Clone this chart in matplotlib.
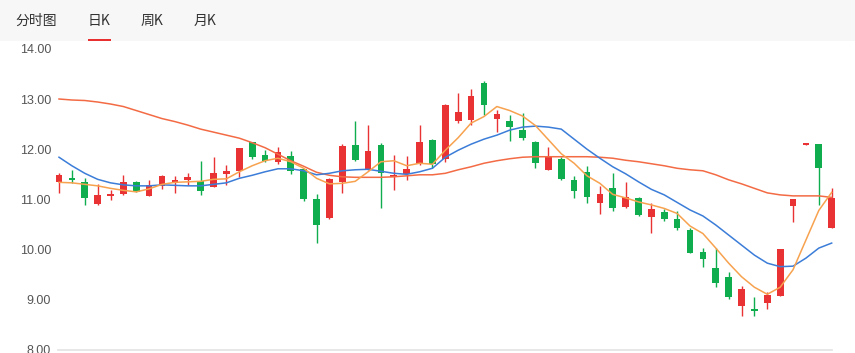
import matplotlib
matplotlib.use("Agg")
import matplotlib.pyplot as plt
from matplotlib.patches import Rectangle
import numpy as np

plt.rcParams['font.family'] = ['Noto Sans CJK SC', 'DejaVu Sans']

# ---------------- data ----------------
tabs = ["分时图", "日K", "周K", "月K"]
y_ticks = [8.0, 9.0, 10.0, 11.0, 12.0, 13.0, 14.0]
y_tick_labels = ["8.00", "9.00", "10.00", "11.00", "12.00", "13.00", "14.00"]

opens = [11.34, 11.43, 11.35, 10.91, 11.07, 11.11, 11.35, 11.07, 11.27, 11.33,
         11.39, 11.37, 11.25, 11.51, 11.57, 12.14, 11.88, 11.74, 11.86, 11.60,
         11.00, 10.62, 11.35, 12.08, 11.61, 12.08, 11.44, 11.51, 11.71, 12.18,
         11.80, 12.57, 12.58, 13.31, 12.60, 12.56, 12.38, 12.15, 11.59, 11.80,
         11.39, 11.55, 10.93, 11.22, 10.84, 11.02, 10.64, 10.75, 10.61, 10.40,
         9.96, 9.64, 9.45, 8.88, 8.82, 8.93, 9.08, 10.87, 12.09, 12.10, 10.44]
highs = [11.52, 11.59, 11.42, 11.30, 11.18, 11.49, 11.36, 11.39, 11.49, 11.47,
         11.53, 11.77, 11.84, 11.69, 12.03, 12.15, 11.99, 12.04, 11.97, 11.61,
         11.11, 11.42, 12.10, 12.56, 12.48, 12.12, 11.89, 11.87, 12.48, 12.20,
         12.90, 13.11, 13.19, 13.35, 12.79, 12.68, 12.73, 12.17, 12.05, 11.85,
         11.47, 11.67, 11.27, 11.52, 11.35, 11.04, 10.92, 10.81, 10.77, 10.44,
         10.04, 10.03, 9.56, 9.28, 9.06, 9.16, 10.01, 11.00, 12.12, 12.11, 11.22]
lows = [11.13, 11.32, 10.89, 10.89, 10.99, 11.09, 11.14, 11.06, 11.20, 11.12,
        11.29, 11.08, 11.24, 11.29, 11.45, 11.80, 11.75, 11.70, 11.50, 10.97,
        10.13, 10.60, 11.12, 11.77, 11.59, 10.82, 11.19, 11.39, 11.69, 11.62,
        11.75, 12.52, 12.48, 12.68, 12.35, 12.17, 12.18, 11.62, 11.58, 11.39,
        11.02, 10.93, 10.71, 10.77, 10.83, 10.66, 10.34, 10.56, 10.40, 9.94,
        9.66, 9.26, 9.01, 8.68, 8.68, 8.81, 9.08, 10.54, 12.09, 10.89, 10.44]
closes = [11.49, 11.39, 11.03, 11.09, 11.11, 11.35, 11.15, 11.29, 11.47, 11.38,
          11.45, 11.17, 11.53, 11.56, 12.02, 11.85, 11.77, 11.94, 11.57, 11.00,
          10.49, 11.41, 12.07, 11.79, 11.96, 11.52, 11.48, 11.60, 12.15, 11.71,
          12.89, 12.74, 13.06, 12.88, 12.70, 12.44, 12.22, 11.73, 11.85, 11.41,
          11.17, 11.05, 11.11, 10.83, 11.05, 10.68, 10.81, 10.61, 10.44, 9.94,
          9.82, 9.33, 9.06, 9.21, 8.77, 9.10, 10.01, 11.00, 12.12, 11.62, 11.02]

ma5 = [11.34, 11.33, 11.30, 11.27, 11.22, 11.18, 11.15, 11.21, 11.30, 11.34,
       11.35, 11.36, 11.40, 11.41, 11.55, 11.67, 11.77, 11.82, 11.75, 11.62,
       11.42, 11.31, 11.32, 11.36, 11.55, 11.75, 11.77, 11.67, 11.72, 11.70,
       11.98, 12.23, 12.52, 12.65, 12.85, 12.77, 12.66, 12.47, 12.19, 11.91,
       11.72, 11.47, 11.32, 11.10, 11.03, 10.95, 10.89, 10.82, 10.72, 10.47,
       10.32, 10.03, 9.73, 9.46, 9.25, 9.11, 9.25, 9.60, 10.19, 10.78, 11.14]
ma10 = [11.84, 11.67, 11.52, 11.40, 11.33, 11.29, 11.27, 11.27, 11.29, 11.28,
        11.27, 11.27, 11.30, 11.33, 11.42, 11.48, 11.55, 11.61, 11.61, 11.57,
        11.49, 11.52, 11.57, 11.59, 11.60, 11.56, 11.52, 11.50, 11.55, 11.62,
        11.84, 11.98, 12.10, 12.20, 12.28, 12.38, 12.44, 12.46, 12.44, 12.40,
        12.20, 12.00, 11.82, 11.65, 11.51, 11.35, 11.20, 11.09, 10.94, 10.79,
        10.67, 10.49, 10.29, 10.09, 9.89, 9.73, 9.66, 9.67, 9.83, 10.03, 10.13]
ma20 = [13.00, 12.98, 12.97, 12.94, 12.90, 12.85, 12.77, 12.69, 12.61, 12.55,
        12.48, 12.40, 12.34, 12.28, 12.22, 12.13, 12.03, 11.90, 11.77, 11.66,
        11.54, 11.48, 11.45, 11.44, 11.44, 11.44, 11.45, 11.47, 11.49, 11.49,
        11.52, 11.59, 11.65, 11.72, 11.77, 11.81, 11.84, 11.85, 11.85, 11.85,
        11.85, 11.85, 11.84, 11.82, 11.78, 11.75, 11.71, 11.67, 11.62, 11.59,
        11.57, 11.49, 11.39, 11.31, 11.22, 11.13, 11.09, 11.07, 11.07, 11.07, 11.04]

# ---------------- figure ----------------
W, H = 855, 353
fig = plt.figure(figsize=(W / 100, H / 100), dpi=100)
fig.patch.set_facecolor("white")

def fx(px):
    return px / W

def fy(py):
    return 1 - py / H

# header band
fig.patches.append(Rectangle((0, fy(40.5)), 1, 40.5 / H, transform=fig.transFigure,
                             facecolor="#f7f7f7", edgecolor="none", zorder=0))
tab_x = [15, 88, 141, 194]
for t, x in zip(tabs, tab_x):
    fig.text(fx(x), fy(21), t, fontsize=10, color="#333333", va="center", ha="left",
             family=['Noto Sans CJK SC', 'DejaVu Sans'])
fig.patches.append(Rectangle((fx(87.7), fy(40.7)), (111 - 87.7) / W, 2.2 / H,
                             transform=fig.transFigure, facecolor="#e93030",
                             edgecolor="none", zorder=2))

# axes in pixel coordinates
ax_l, ax_r = 58, 845
ax_top, ax_bot = 48.8, 350
ax = fig.add_axes([fx(ax_l), fy(ax_bot), (ax_r - ax_l) / W, (ax_bot - ax_top) / H])
ax.set_facecolor("none")

spacing = 12.878
x0_px = 59
n = len(closes)
xs = np.arange(n)
ax.set_xlim((ax_l - x0_px) / spacing, (ax_r - x0_px) / spacing)
ax.set_ylim(8.0, 14.0)

for s in ax.spines.values():
    s.set_visible(False)
ax.set_xticks([])
ax.set_yticks(y_ticks)
ax.set_yticklabels(y_tick_labels)
ax.tick_params(axis="y", length=0, pad=5, labelsize=9, labelcolor="#555555")
for lab in ax.get_yticklabels():
    lab.set_family(["Liberation Sans", "DejaVu Sans"])

# bottom baseline
ax.axhline(8.0, xmin=0, xmax=(832 - ax_l) / (ax_r - ax_l), color="#e3e3e3", lw=1.2,
           clip_on=False, zorder=1)

red = "#e93234"
green = "#10ad4f"
o = np.array(opens); c = np.array(closes)
hi = np.array(highs); lo = np.array(lows)
cols = [red if cc >= oo else green for oo, cc in zip(o, c)]

ax.vlines(xs, lo, hi, colors=cols, lw=1.0, zorder=2, clip_on=False)
body_bottom = np.minimum(o, c)
body_h = np.maximum(np.abs(c - o), 0.03)
ax.bar(xs, body_h, bottom=body_bottom, width=0.52, color=cols, edgecolor="none",
       zorder=3, clip_on=False)

ax.plot(xs, ma20, color="#f36b45", lw=1.1, zorder=4)
ax.plot(xs, ma10, color="#3b7dd8", lw=1.1, zorder=4)
ax.plot(xs, ma5, color="#f7a24f", lw=1.1, zorder=4)

fig.savefig("out.png", dpi=100)
